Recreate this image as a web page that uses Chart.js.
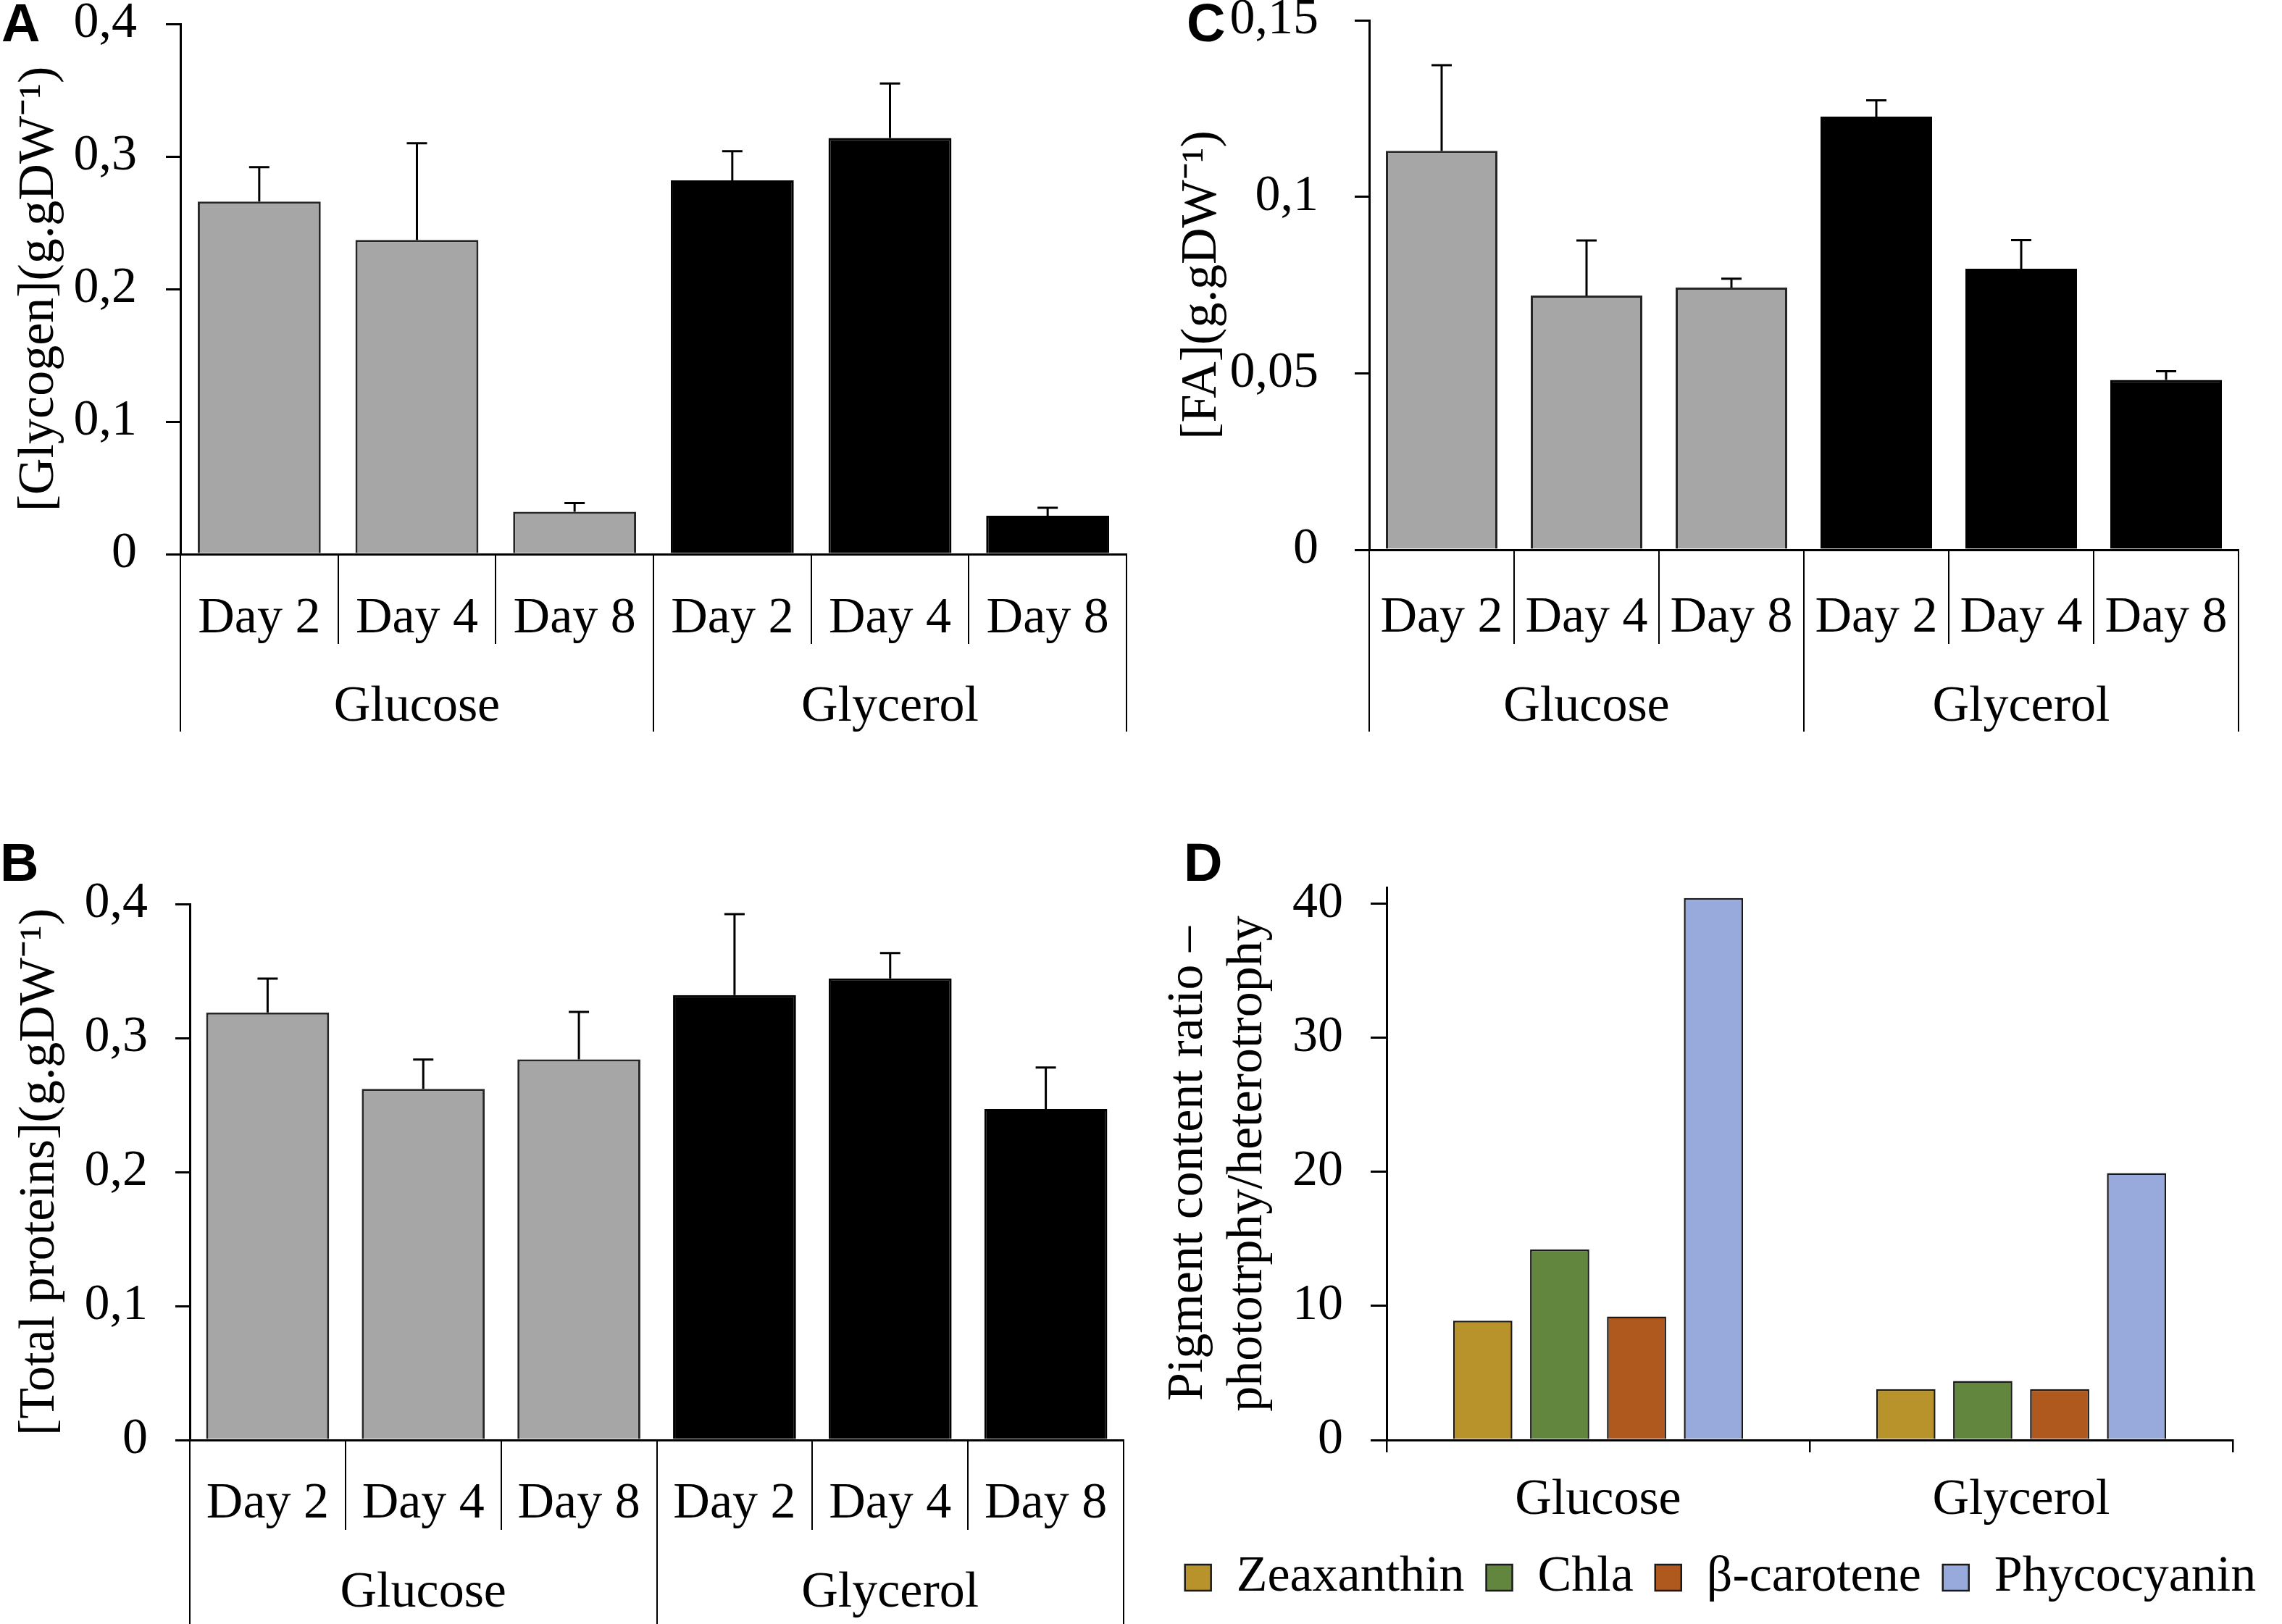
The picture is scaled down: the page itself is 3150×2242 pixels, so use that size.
<!DOCTYPE html>
<html>
<head>
<meta charset="utf-8">
<script src="https://cdn.jsdelivr.net/npm/chart.js@4.4.1/dist/chart.umd.min.js"></script>
<style>
  body { margin: 0; background: #fff; }
  #page { position: relative; width: 3150px; height: 2242px; overflow: hidden; background: #fff; }
  canvas { position: absolute; }
  .tag { position: absolute; font: bold 74px 'Liberation Sans', Arial, sans-serif; line-height: 1; color: #000; }
</style>
</head>
<body>
<div id="page">
  <canvas id="chartA" width="1580" height="1012" style="left:0px;top:0px;width:1580px;height:1012px"></canvas>
  <canvas id="chartC" width="1550" height="1012" style="left:1600px;top:0px;width:1550px;height:1012px"></canvas>
  <canvas id="chartB" width="1580" height="1092" style="left:0px;top:1150px;width:1580px;height:1092px"></canvas>
  <canvas id="chartD" width="1550" height="1092" style="left:1600px;top:1150px;width:1550px;height:1092px"></canvas>
  <div class="tag" style="left:2px;top:-5px">A</div>
  <div class="tag" style="left:1638px;top:-5px">C</div>
  <div class="tag" style="left:0px;top:1154px">B</div>
  <div class="tag" style="left:1634px;top:1154px">D</div>
</div>
<script>
// categories
const days = ['Day 2', 'Day 4', 'Day 8', 'Day 2', 'Day 4', 'Day 8'];
const carbon = ['Glucose', 'Glycerol'];

// A - glycogen (mean and + error)
const glycogen = [0.266, 0.237, 0.032, 0.282, 0.314, 0.029];
const glycogenErr = [0.026, 0.073, 0.0065, 0.022, 0.041, 0.006];

// C - fatty acids
const fattyAcids = [0.113, 0.072, 0.0743, 0.1227, 0.0796, 0.0481];
const fattyAcidsErr = [0.0243, 0.0156, 0.0025, 0.0046, 0.0081, 0.0025];

// B - total proteins
const proteins = [0.319, 0.262, 0.284, 0.332, 0.3445, 0.247];
const proteinsErr = [0.0253, 0.0219, 0.0354, 0.0605, 0.0189, 0.031];

// D - pigment ratio phototrophy / heterotrophy
const pigments = ['Zeaxanthin', 'Chla', 'β-carotene', 'Phycocyanin'];
const zeaxanthin = [8.9, 3.8];
const chla = [14.2, 4.4];
const betaCarotene = [9.2, 3.8];
const phycocyanin = [40.4, 19.9];
const pigmentColors = ['#b8922a', '#62863e', '#b0591f', '#98aadb'];

const barColors = ['#a6a6a6', '#a6a6a6', '#a6a6a6', '#000000', '#000000', '#000000'];
const barBorders = ['#262626', '#262626', '#262626', '#000000', '#000000', '#000000'];

Chart.defaults.font.family = "'Liberation Serif', 'Times New Roman', serif";
Chart.defaults.color = '#000';

// decimal comma, no float noise
function fmt(v) {
    return String(Math.round(v * 1e6) / 1e6).replace('.', ',');
}

// keep the label overflow of the value axis out of the layout
function fixWidth(w) {
    return function (s) {
        s.width = w;
        s.paddingTop = 0;
        s.paddingBottom = 0;
    };
}

// plus-only error bars, drawn on top of the bars
const errorBars = {
    id: 'errorBars',
    afterDatasetsDraw(chart, args, opts) {
        if (!opts.plus) return;
        let ctx = chart.ctx;
        let yScale = chart.scales.y;
        let meta = chart.getDatasetMeta(0);
        let values = chart.data.datasets[0].data;
        ctx.save();
        ctx.strokeStyle = '#000';
        ctx.lineWidth = 3;
        meta.data.forEach((bar, i) => {
            let yTop = yScale.getPixelForValue(values[i] + opts.plus[i]);
            ctx.beginPath();
            ctx.moveTo(bar.x, bar.y);
            ctx.lineTo(bar.x, yTop);
            ctx.moveTo(bar.x - 14, yTop);
            ctx.lineTo(bar.x + 14, yTop);
            ctx.stroke();
        });
        ctx.restore();
    }
};

// Excel-like bar chart with two rows of category labels
function dayChart(id, values, plus, yMax, yStep, yTitle, L) {
    let ctx = document.getElementById(id).getContext('2d');
    return new Chart(ctx, {
        type: 'bar',
        data: {
            labels: days,
            datasets: [{
                data: values,
                backgroundColor: barColors,
                borderColor: barBorders,
                borderWidth: 3,
                barPercentage: L.bar,
                categoryPercentage: 1
            }]
        },
        options: {
            responsive: false,
            animation: false,
            devicePixelRatio: 1,
            layout: { padding: { top: L.top, right: L.right, bottom: L.bottom, left: 0 } },
            plugins: {
                legend: { display: false },
                tooltip: { enabled: false },
                errorBars: { plus: plus }
            },
            scales: {
                x: {
                    type: 'category',
                    weight: 0,
                    offset: true,
                    grid: { offset: true, drawOnChartArea: false, color: '#000', lineWidth: 2, tickLength: L.xH },
                    border: { color: '#000', width: 3 },
                    ticks: { padding: L.dayPad, font: { size: 70 }, color: '#000', maxRotation: 0, minRotation: 0, autoSkip: false },
                    afterFit(s) { s.height = L.xH; }
                },
                x2: {
                    type: 'category',
                    position: 'bottom',
                    weight: 1,
                    labels: carbon,
                    offset: true,
                    grid: { offset: true, drawOnChartArea: false, color: '#000', lineWidth: 2, tickLength: L.x2H },
                    border: { display: false },
                    ticks: { padding: L.grpPad, font: { size: 70 }, color: '#000', maxRotation: 0, minRotation: 0, autoSkip: false },
                    afterFit(s) { s.height = L.x2H; }
                },
                y: {
                    min: 0,
                    max: yMax,
                    ticks: { stepSize: yStep, padding: L.yPad, font: { size: 70 }, color: '#000', callback: v => fmt(v) },
                    grid: { drawOnChartArea: false, color: '#000', lineWidth: 3, tickLength: 20 },
                    border: { color: '#000', width: 3 },
                    title: { display: true, text: yTitle, font: { size: 70, lineHeight: 1.2 }, color: '#000', padding: { top: L.tPad, bottom: 0 } },
                    afterFit: fixWidth(L.yW)
                }
            }
        },
        plugins: [errorBars]
    });
}

dayChart('chartA', glycogen, glycogenErr, 0.4, 0.1, '[Glycogen](g.gDW⁻¹)',
    { top: 33, right: 25, bottom: 2, yW: 249, xH: 124, x2H: 121, dayPad: -76, grpPad: -75, tPad: 13, yPad: 40, bar: 0.78 });

dayChart('chartC', fattyAcids, fattyAcidsErr, 0.15, 0.05, '[FA](g.gDW⁻¹)',
    { top: 28, right: 60, bottom: 2, yW: 290, xH: 130, x2H: 121, dayPad: -77, grpPad: -75, tPad: 18, yPad: 50, bar: 0.77 });

dayChart('chartB', proteins, proteinsErr, 0.4, 0.1, '[Total proteins](g.gDW⁻¹)',
    { top: 98, right: 29, bottom: 0, yW: 262, xH: 124, x2H: 130, dayPad: -77, grpPad: -84, tPad: 14, yPad: 38, bar: 0.79 });

// D - pigments
new Chart(document.getElementById('chartD').getContext('2d'), {
    type: 'bar',
    data: {
        labels: carbon,
        datasets: [
            { label: pigments[0], data: zeaxanthin, backgroundColor: pigmentColors[0] },
            { label: pigments[1], data: chla, backgroundColor: pigmentColors[1] },
            { label: pigments[2], data: betaCarotene, backgroundColor: pigmentColors[2] },
            { label: pigments[3], data: phycocyanin, backgroundColor: pigmentColors[3] }
        ].map(ds => Object.assign(ds, {
            borderColor: '#1a1a1a',
            borderWidth: 2.5,
            barPercentage: 0.77,
            categoryPercentage: 0.727
        }))
    },
    options: {
        responsive: false,
        animation: false,
        devicePixelRatio: 1,
        layout: { padding: { top: 75, right: 0, bottom: 19, left: 0 } },
        plugins: {
            tooltip: { enabled: false },
            legend: {
                position: 'bottom',
                labels: { boxWidth: 36, boxHeight: 36, padding: 30, font: { size: 70 }, color: '#000' }
            }
        },
        scales: {
            x: {
                offset: true,
                grid: { offset: true, drawOnChartArea: false, color: '#000', lineWidth: 2.5, tickLength: 17 },
                border: { color: '#000', width: 3 },
                ticks: { padding: 25, font: { size: 70 }, color: '#000', maxRotation: 0 },
                afterFit(s) { s.height = 125; }
            },
            y: {
                min: 0,
                max: 41.2,
                ticks: { stepSize: 10, includeBounds: false, padding: 38, font: { size: 70 }, color: '#000' },
                grid: { drawOnChartArea: false, color: '#000', lineWidth: 3, tickLength: 22 },
                border: { color: '#000', width: 3 },
                title: {
                    display: true,
                    text: ['Pigment content ratio –', 'phototrphy/heterotrophy'],
                    font: { size: 70, lineHeight: 1.17 },
                    color: '#000',
                    padding: { top: 0, bottom: 0 }
                },
                afterFit: fixWidth(314)
            },
            // empty right margin so the legend can use the full width
            yRight: {
                position: 'right',
                display: true,
                grid: { display: false },
                border: { display: false },
                ticks: { display: false },
                afterFit: fixWidth(68)
            }
        }
    }
});
</script>
</body>
</html>
